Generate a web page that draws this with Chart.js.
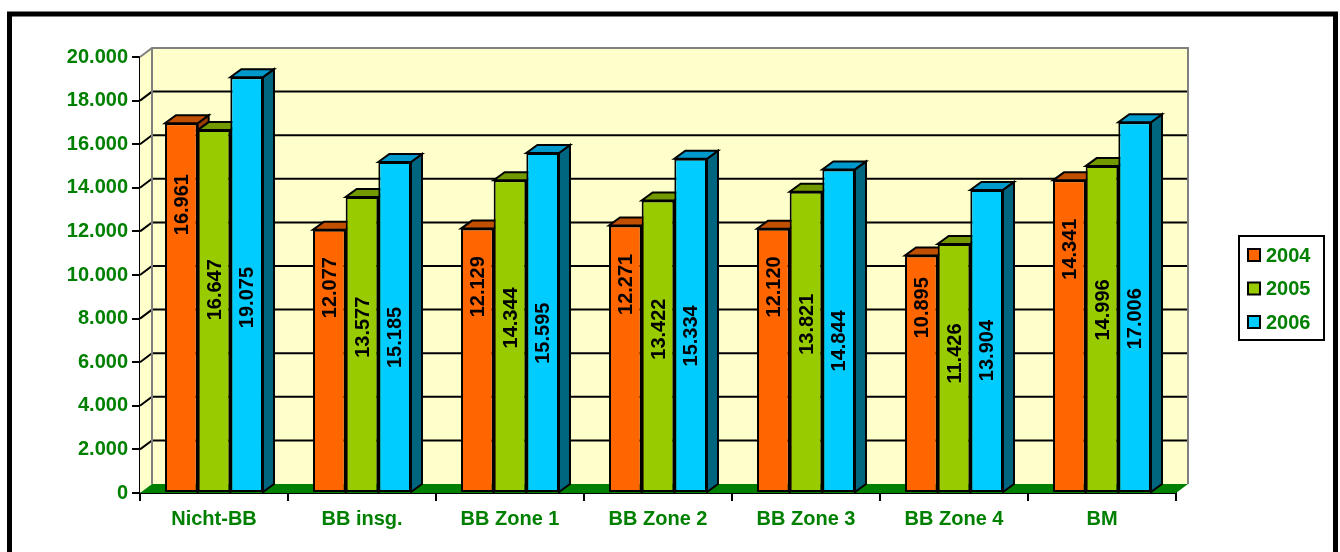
<!DOCTYPE html>
<html>
<head>
<meta charset="utf-8">
<script src="https://cdn.jsdelivr.net/npm/chart.js@4.4.1/dist/chart.umd.min.js"></script>
<style>
  html, body { margin: 0; padding: 0; background: #fff; }
  canvas { display: block; }
</style>
</head>
<body>
<canvas id="myChart" width="1340" height="552"></canvas>
<script>
// data
const categories = ["Nicht-BB", "BB insg.", "BB Zone 1", "BB Zone 2", "BB Zone 3", "BB Zone 4", "BM"];
const seriesNames = ["2004", "2005", "2006"];
const values2004 = [16961, 12077, 12129, 12271, 12120, 10895, 14341];
const values2005 = [16647, 13577, 14344, 13422, 13821, 11426, 14996];
const values2006 = [19075, 15185, 15595, 15334, 14844, 13904, 17006];
const yTicks = [0, 2000, 4000, 6000, 8000, 10000, 12000, 14000, 16000, 18000, 20000];

const GREEN_TXT = "#008000";
const FONT = "'Liberation Sans', Arial, sans-serif";
// front, top, side colours for each series
const colors = [
    { front: "#FF6600", top: "#C04F00", side: "#993D00", labelAt: 0.78 },
    { front: "#99CC00", top: "#739900", side: "#5C7A00", labelAt: 0.56 },
    { front: "#00CCFF", top: "#0099CC", side: "#006680", labelAt: 0.47 },
];
const WALL = { dx: 12, dy: 9 };
const BAR = { dx: 11, dy: 8 };

function fmt(v) {
    return String(v).replace(/\B(?=(\d{3})+(?!\d))/g, ".");
}

function poly(ctx, pts, fill, stroke, lw) {
    ctx.beginPath();
    ctx.moveTo(pts[0][0], pts[0][1]);
    for (let i = 1; i < pts.length; i++) ctx.lineTo(pts[i][0], pts[i][1]);
    ctx.closePath();
    if (fill) { ctx.fillStyle = fill; ctx.fill(); }
    if (stroke) { ctx.strokeStyle = stroke; ctx.lineWidth = lw || 1; ctx.stroke(); }
}

const walls3d = {
    id: "walls3d",
    beforeDraw(chart) {
        const ctx = chart.ctx;
        ctx.save();
        ctx.fillStyle = "#fff";
        ctx.fillRect(0, 0, chart.width, chart.height);
        // outer frame
        ctx.strokeStyle = "#000";
        ctx.lineWidth = 5;
        ctx.strokeRect(9.5, 14, 1326, 560);
        ctx.restore();
    },
    beforeDatasetsDraw(chart) {
        const ctx = chart.ctx;
        const a = chart.chartArea;
        const ys = chart.scales.y;
        const L = a.left, R = a.right, T = a.top, B = a.bottom;
        const dx = WALL.dx, dy = WALL.dy;
        ctx.save();
        // back wall + side wall
        poly(ctx, [[L + dx, T - dy], [R + dx, T - dy], [R + dx, B - dy], [L + dx, B - dy]], "#FFFFCC");
        poly(ctx, [[L, T], [L + dx, T - dy], [L + dx, B - dy], [L, B]], "#FFFFCC");
        // grid lines
        ctx.strokeStyle = "#000";
        ctx.lineWidth = 2;
        yTicks.forEach(v => {
            if (v === 0 || v === 20000) return;
            const y = ys.getPixelForValue(v);
            ctx.beginPath();
            ctx.moveTo(L, y);
            ctx.lineTo(L + dx, y - dy);
            ctx.lineTo(R + dx, y - dy);
            ctx.stroke();
        });
        // wall edges
        ctx.strokeStyle = "#808080";
        ctx.lineWidth = 2;
        ctx.beginPath();
        ctx.moveTo(L, T);
        ctx.lineTo(L + dx, T - dy);
        ctx.lineTo(R + dx, T - dy);
        ctx.lineTo(R + dx, B - dy);
        ctx.moveTo(L + dx, T - dy);
        ctx.lineTo(L + dx, B - dy);
        ctx.stroke();
        // floor
        poly(ctx, [[L, B], [R, B], [R + dx, B - dy], [L + dx, B - dy]], "#008000");

        // bar tops and sides, drawn category by category
        const metas = chart.data.datasets.map((d, i) => chart.getDatasetMeta(i));
        for (let j = 0; j < categories.length; j++) {
            metas.forEach((meta, i) => {
                const el = meta.data[j];
                const p = el.getProps(["x", "y", "width", "base"], true);
                const l = p.x - p.width / 2, r = p.x + p.width / 2;
                const c = colors[i];
                poly(ctx, [[r, p.y], [r + BAR.dx, p.y - BAR.dy], [r + BAR.dx, p.base - BAR.dy], [r, p.base]], c.side, "#000", 2);
                poly(ctx, [[l, p.y], [r, p.y], [r + BAR.dx, p.y - BAR.dy], [l + BAR.dx, p.y - BAR.dy]], c.top, "#000", 2);
            });
        }
        ctx.restore();
    },
    afterDatasetsDraw(chart) {
        const ctx = chart.ctx;
        const ys = chart.scales.y;
        ctx.save();
        ctx.fillStyle = "#000";
        ctx.font = "bold 20px " + FONT;
        ctx.textAlign = "center";
        ctx.textBaseline = "middle";
        chart.data.datasets.forEach((ds, i) => {
            const meta = chart.getDatasetMeta(i);
            meta.data.forEach((el, j) => {
                const v = ds.data[j];
                const yc = ys.getPixelForValue(v * colors[i].labelAt);
                ctx.save();
                ctx.translate(el.x + 1, yc);
                ctx.rotate(-Math.PI / 2);
                ctx.fillText(fmt(v), 0, 0);
                ctx.restore();
            });
        });
        ctx.restore();
    },
    afterDraw(chart) {
        // legend box
        const ctx = chart.ctx;
        ctx.save();
        ctx.strokeStyle = "#000";
        ctx.lineWidth = 2;
        ctx.fillStyle = "#fff";
        ctx.fillRect(1239, 236, 85, 104);
        ctx.strokeRect(1239, 236, 85, 104);
        ctx.font = "bold 20px " + FONT;
        ctx.textBaseline = "middle";
        ctx.textAlign = "left";
        chart.data.datasets.forEach((ds, i) => {
            const yc = 255 + i * 33.5;
            ctx.fillStyle = colors[i].front;
            ctx.fillRect(1248, yc - 6, 12, 12);
            ctx.strokeRect(1248, yc - 6, 12, 12);
            ctx.fillStyle = GREEN_TXT;
            ctx.fillText(ds.label, 1266, yc + 1);
        });
        ctx.restore();
    },
};

(function () {
    const ctx = document.getElementById("myChart");
    const allSeries = [values2004, values2005, values2006];
    new Chart(ctx, {
        type: "bar",
        data: {
            labels: categories,
            datasets: allSeries.map((vals, i) => ({
                label: seriesNames[i],
                data: vals,
                backgroundColor: colors[i].front,
                borderColor: "#000",
                borderWidth: 2,
                borderSkipped: false,
                categoryPercentage: 0.662,
                barPercentage: 1.0,
            })),
        },
        options: {
            responsive: false,
            animation: false,
            events: [],
            layout: { padding: { left: 0, right: 164, top: 57, bottom: 0 } },
            plugins: {
                legend: { display: false },
                tooltip: { enabled: false },
            },
            scales: {
                x: {
                    afterFit(s) { s.height = 59; },
                    grid: {
                        offset: true,
                        drawOnChartArea: false,
                        drawTicks: true,
                        tickLength: 8,
                        color: "#000",
                        lineWidth: 2,
                    },
                    border: { display: true, color: "#000", width: 2 },
                    ticks: {
                        color: GREEN_TXT,
                        font: { family: FONT, size: 20, weight: "bold" },
                        padding: 6,
                        maxRotation: 0,
                        autoSkip: false,
                    },
                },
                y: {
                    min: 0,
                    max: 20000,
                    afterFit(s) { s.width = 140; },
                    afterBuildTicks(s) { s.ticks = yTicks.map(v => ({ value: v })); },
                    grid: {
                        drawOnChartArea: false,
                        drawTicks: true,
                        tickLength: 8,
                        color: "#000",
                        lineWidth: 2,
                    },
                    border: { display: true, color: "#000", width: 2 },
                    ticks: {
                        color: GREEN_TXT,
                        font: { family: FONT, size: 20, weight: "bold" },
                        padding: 4,
                        callback: v => fmt(v),
                    },
                },
            },
        },
        plugins: [walls3d],
    });
})();
</script>
</body>
</html>
